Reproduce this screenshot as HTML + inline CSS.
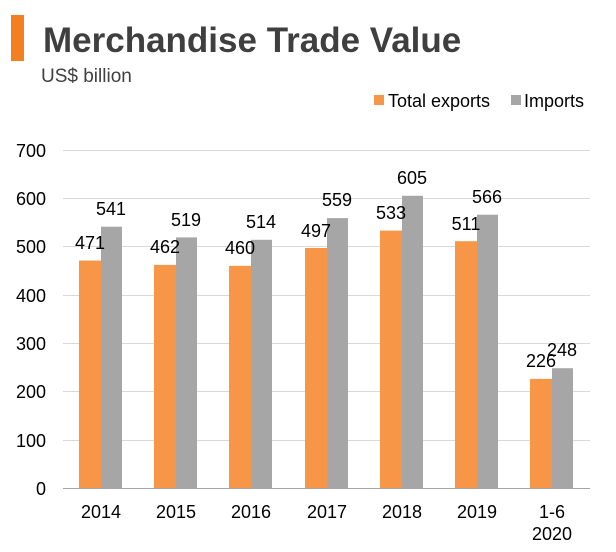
<!DOCTYPE html><html><head><style>body{margin:0;background:#fff}svg{display:block}text{font-family:"Liberation Sans",Arial,sans-serif}</style></head><body>
<svg width="616" height="552" xmlns="http://www.w3.org/2000/svg">
<rect x="11" y="15" width="13" height="46" fill="#f47f20"/>
<text x="43" y="52" font-size="35" font-weight="bold" fill="#3f3f3f">Merchandise Trade Value</text>
<text x="41" y="82" font-size="19" fill="#404040">US$ billion</text>
<rect x="374" y="95" width="10" height="10" fill="#f79646"/>
<text x="388" y="107" font-size="18" fill="#000">Total exports</text>
<rect x="511" y="95" width="10" height="10" fill="#a6a6a6"/>
<text x="524" y="107" font-size="18" fill="#000">Imports</text>
<g stroke="#d9d9d9" stroke-width="1">
<line x1="63" x2="590" y1="150.5" y2="150.5"/><line x1="63" x2="590" y1="198.5" y2="198.5"/><line x1="63" x2="590" y1="246.5" y2="246.5"/><line x1="63" x2="590" y1="295.5" y2="295.5"/><line x1="63" x2="590" y1="343.5" y2="343.5"/><line x1="63" x2="590" y1="391.5" y2="391.5"/><line x1="63" x2="590" y1="440.5" y2="440.5"/>
</g>
<g font-size="18" text-anchor="end" fill="#000">
<text x="46" y="157">700</text><text x="46" y="205">600</text><text x="46" y="253">500</text><text x="46" y="302">400</text><text x="46" y="350">300</text><text x="46" y="398">200</text><text x="46" y="447">100</text><text x="46" y="495">0</text>
</g>
<g fill="#f79646">
<rect x="79" y="260.6" width="22" height="227.4"/>
<rect x="154" y="264.9" width="22" height="223.1"/>
<rect x="229" y="265.9" width="22" height="222.1"/>
<rect x="305" y="248" width="22" height="240"/>
<rect x="380" y="230.6" width="22" height="257.4"/>
<rect x="455" y="241.2" width="22" height="246.8"/>
<rect x="530" y="378.9" width="22" height="109.1"/>
</g>
<g fill="#a6a6a6">
<rect x="101" y="226.7" width="21" height="261.3"/>
<rect x="176" y="237.4" width="21" height="250.6"/>
<rect x="251" y="239.8" width="21" height="248.2"/>
<rect x="327" y="218.1" width="21" height="269.9"/>
<rect x="402" y="195.8" width="21" height="292.2"/>
<rect x="477" y="214.7" width="21" height="273.3"/>
<rect x="552" y="368.2" width="21" height="119.8"/>
</g>
<g font-size="18" text-anchor="middle" fill="#000">
<text x="90" y="249">471</text><text x="111" y="215">541</text>
<text x="165" y="253">462</text><text x="186" y="226">519</text>
<text x="240" y="254">460</text><text x="261" y="228">514</text>
<text x="316" y="237">497</text><text x="337" y="206">559</text>
<text x="391" y="219">533</text><text x="412" y="184">605</text>
<text x="466" y="230">511</text><text x="487" y="203">566</text>
<text x="541" y="367">226</text><text x="562" y="356">248</text>
<text x="101" y="518">2014</text><text x="176" y="518">2015</text><text x="251" y="518">2016</text><text x="327" y="518">2017</text><text x="402" y="518">2018</text><text x="477" y="518">2019</text><text x="552" y="518">1-6</text><text x="552" y="540">2020</text>
</g>
<line x1="63" x2="590" y1="488.5" y2="488.5" stroke="#a6a6a6"/>
</svg></body></html>
